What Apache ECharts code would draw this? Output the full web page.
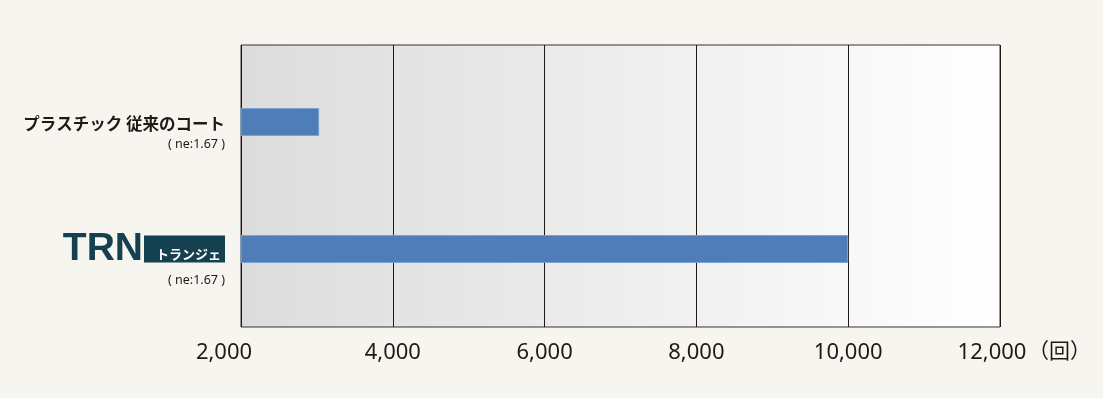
<!DOCTYPE html>
<html>
<head>
<meta charset="utf-8">
<script src="https://cdn.jsdelivr.net/npm/echarts@6/dist/echarts.min.js"></script>
<style>
  html, body { margin: 0; padding: 0; background: #f6f5f0; }
  #chart { width: 1103px; height: 398px; }
</style>
</head>
<body>
<div id="chart"></div>
<script>
// 耐久回数（回）
const categories = ['plastic', 'trn']
const values = [3030, 10000]
const axisMin = 2000
const axisMax = 12000
const axisStep = 2000
const subLabel = '( ne:1.67 )'
const plasticName = 'プラスチック 従来のコート'

let chart = echarts.init(document.getElementById('chart'))

let option = {
  backgroundColor: '#f6f5f0',
  animation: false,
  grid: [
    // 棒グラフ用
    { left: 241, right: 103, top: 58.5, bottom: 85.5 },
    // 背景・目盛り用
    {
      left: 241, right: 103, top: 45, bottom: 71,
      show: true,
      borderColor: '#3a3030',
      borderWidth: 1,
      backgroundColor: {
        type: 'linear', x: 0, y: 0, x2: 1, y2: 0,
        colorStops: [
          { offset: 0, color: '#dcdcdc' },
          { offset: 1, color: '#ffffff' }
        ]
      }
    }
  ],
  xAxis: [
    {
      gridIndex: 0,
      type: 'value',
      min: axisMin,
      max: axisMax,
      interval: axisStep,
      show: false
    },
    {
      gridIndex: 1,
      type: 'value',
      min: axisMin,
      max: axisMax,
      interval: axisStep,
      axisLine: { show: false },
      axisTick: { show: false },
      splitLine: {
        show: true,
        lineStyle: { color: '#231815', width: 1 }
      },
      axisLabel: {
        margin: 15,
        fontSize: 22,
        fontFamily: 'Noto Sans',
        color: '#231815',
        formatter: (v) => {
          let txt = v.toLocaleString('en-US')
          if (v === axisMin) return '{l|' + txt + '}'
          if (v === axisMax) return '{r|' + txt + '}'
          return txt
        },
        rich: {
          l: { fontSize: 22, fontFamily: 'Noto Sans', color: '#231815', padding: [0, 34, 0, 0] },
          r: { fontSize: 22, fontFamily: 'Noto Sans', color: '#231815', padding: [0, 16, 0, 0] }
        }
      }
    }
  ],
  yAxis: [
    {
      gridIndex: 0,
      type: 'category',
      inverse: true,
      data: categories,
      axisLine: { show: false },
      axisTick: { show: false },
      splitLine: { show: false },
      axisLabel: {
        margin: 16,
        align: 'right',
        formatter: (v) => {
          if (v === 'plastic') {
            return '{sp1| }\n{a|' + plasticName + '}\n{s|' + subLabel + '}'
          }
          return '{sp2| }\n{t|TRN}{box|トランジェ}\n{s|' + subLabel + '}'
        },
        rich: {
          sp1: { fontSize: 10, lineHeight: 22 },
          sp2: { fontSize: 10, lineHeight: 18 },
          a: {
            fontSize: 16.5,
            lineHeight: 22,
            fontWeight: 'bold',
            fontFamily: 'Noto Sans CJK JP',
            color: '#231815',
            align: 'right'
          },
          s: {
            fontSize: 12.5,
            lineHeight: 18,
            fontFamily: 'Noto Sans',
            color: '#231815',
            align: 'right'
          },
          t: {
            fontSize: 39,
            lineHeight: 44,
            fontWeight: 'bold',
            fontFamily: 'Liberation Sans',
            color: '#15404f',
            padding: [0, 1, 0, 0]
          },
          box: {
            fontSize: 13,
            lineHeight: 14,
            fontWeight: 'bold',
            fontFamily: 'Noto Sans CJK JP',
            color: '#ffffff',
            backgroundColor: '#15404f',
            padding: [12, 4, 2, 12]
          }
        }
      }
    },
    {
      gridIndex: 1,
      type: 'value',
      show: false
    }
  ],
  graphic: [
    {
      type: 'text',
      left: 1028,
      top: 340,
      style: {
        text: '（回）',
        fontSize: 21,
        fontFamily: 'Noto Sans CJK JP',
        fill: '#231815'
      }
    }
  ],
  series: [
    {
      type: 'bar',
      xAxisIndex: 0,
      yAxisIndex: 0,
      barWidth: 28,
      itemStyle: {
        color: '#4f7db8',
        borderColor: '#7ea2cf',
        borderWidth: 1
      },
      data: values,
      z: 5
    }
  ]
}

chart.setOption(option)
</script>
</body>
</html>
